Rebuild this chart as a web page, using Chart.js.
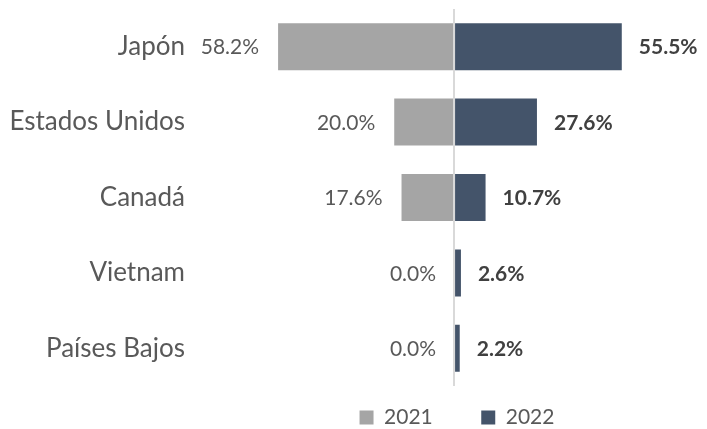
<!DOCTYPE html>
<html lang="es">
<head>
<meta charset="utf-8">
<title>Japón, Estados Unidos, Canadá 2021 vs 2022</title>
<script src="https://cdn.jsdelivr.net/npm/chart.js@4.4.1/dist/chart.umd.min.js"></script>
<style>
  html, body { margin: 0; padding: 0; background: #ffffff; }
  #wrap { width: 707px; height: 429px; position: relative; }
</style>
</head>
<body>
<div id="wrap"><canvas id="chart"></canvas></div>
<script>
// data
const countries = ["Japón", "Estados Unidos", "Canadá", "Vietnam", "Países Bajos"];
const share2021 = [58.2, 20.0, 17.6, 0.0, 0.0];
const share2022 = [55.5, 27.6, 10.7, 2.6, 2.2];
const seriesNames = ["2021", "2022"];

const FONT = "Lato, 'Open Sans', sans-serif";
const grey = "#A5A5A5";
const navy = "#44546A";

// value labels beside each bar
const valueLabels = {
  id: "valueLabels",
  afterDatasetsDraw(chart) {
    const ctx = chart.ctx;
    chart.data.datasets.forEach((ds, i) => {
      const meta = chart.getDatasetMeta(i);
      meta.data.forEach((bar, j) => {
        const text = Math.abs(ds.data[j]).toFixed(1) + "%";
        ctx.save();
        ctx.textBaseline = "middle";
        if (i === 0) {
          ctx.font = "21px " + FONT;
          ctx.fillStyle = "#595959";
          ctx.textAlign = "right";
          ctx.fillText(text, Math.min(bar.x, bar.base) - 18, bar.y + 1);
        } else {
          ctx.font = "bold 21px " + FONT;
          ctx.fillStyle = "#404040";
          ctx.textAlign = "left";
          ctx.fillText(text, Math.max(bar.x, bar.base) + 16, bar.y + 1);
        }
        ctx.restore();
      });
    });
  }
};

const ctx = document.getElementById("chart").getContext("2d");

new Chart(ctx, {
  type: "bar",
  data: {
    labels: countries,
    datasets: [
      {
        label: seriesNames[0],
        data: share2021.map((v) => -v),
        backgroundColor: grey,
        borderColor: "rgba(255,255,255,0.45)",
        borderWidth: 1,
        categoryPercentage: 1,
        barPercentage: 0.65
      },
      {
        label: seriesNames[1],
        data: share2022,
        backgroundColor: navy,
        borderColor: "rgba(255,255,255,0.45)",
        borderWidth: 1,
        categoryPercentage: 1,
        barPercentage: 0.65
      }
    ]
  },
  options: {
    indexAxis: "y",
    responsive: true,
    maintainAspectRatio: false,
    animation: false,
    layout: {
      padding: { top: 9, right: 0, bottom: -9, left: 0 }
    },
    scales: {
      x: {
        stacked: true,
        min: -81.25,
        max: 83.2,
        ticks: { display: false, stepSize: 20 },
        border: { display: false },
        grid: {
          drawTicks: false,
          lineWidth: 2,
          color: (c) => (c.tick && c.tick.value === 0 ? "#D9D9D9" : "rgba(0,0,0,0)")
        },
        afterFit(scale) {
          scale.height = 11;
          scale.paddingLeft = 0;
          scale.paddingRight = 0;
        }
      },
      y: {
        stacked: true,
        border: { display: false },
        grid: { display: false, drawTicks: false },
        ticks: {
          padding: 22,
          color: "#595959",
          font: { family: FONT, size: 26 }
        },
        afterFit(scale) {
          scale.width = 207;
          scale.paddingTop = 0;
          scale.paddingBottom = 0;
        }
      }
    },
    plugins: {
      tooltip: { enabled: false },
      legend: {
        position: "bottom",
        fullSize: false,
        labels: {
          boxWidth: 14,
          boxHeight: 14,
          padding: 10,
          color: "#595959",
          font: { family: FONT, size: 21 },
          generateLabels(chart) {
            const items = Chart.defaults.plugins.legend.labels.generateLabels(chart);
            items.forEach((it, i) => {
              it.lineWidth = 0;
              // wider gap between the two entries
              if (i < items.length - 1) it.text = it.text + "\u2003\u2003\u2004";
            });
            return items;
          }
        }
      }
    }
  },
  plugins: [valueLabels]
});
</script>
</body>
</html>
